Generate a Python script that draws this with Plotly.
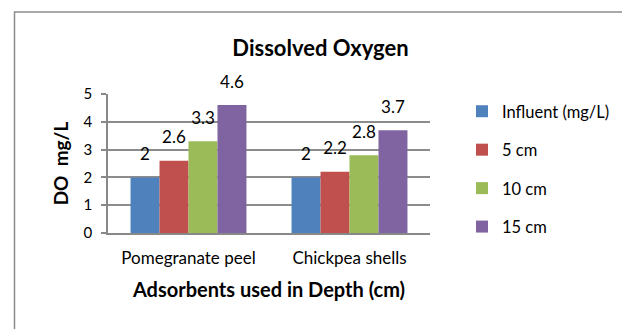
import plotly.graph_objects as go

categories = ["Pomegranate peel", "Chickpea shells"]
series_names = ["Influent (mg/L)", "5 cm", "10 cm", "15 cm"]
influent = [2, 2]
cm5 = [2.6, 2.2]
cm10 = [3.3, 2.8]
cm15 = [4.6, 3.7]
series_values = [influent, cm5, cm10, cm15]
colors = ["#4F81BD", "#C0504D", "#9BBB59", "#8064A2"]
y_ticks = [0, 1, 2, 3, 4, 5]

FONT = "Lato"
W, H = 622, 329
L, R, T, B = 108, 192, 94, 96
LABEL_BAND = 0.38  # transparent spacer (data units) lifting each value label off its bar

fig = go.Figure()
for name, vals, col in zip(series_names, series_values, colors):
    fig.add_trace(go.Bar(
        x=categories, y=vals, name=name, legendgroup=name, offsetgroup=name,
        marker=dict(color=col, line=dict(width=0)),
        hoverinfo="skip",
    ))
for name, vals in zip(series_names, series_values):
    fig.add_trace(go.Bar(
        x=categories, y=[LABEL_BAND] * len(vals), base=vals,
        offsetgroup=name, showlegend=False,
        marker=dict(color="rgba(0,0,0,0)", line=dict(width=0)),
        text=[f"{v:g}" for v in vals],
        textposition="outside", constraintext="none", textangle=0,
        outsidetextfont=dict(family=FONT, size=17, color="#000000"),
        cliponaxis=False, hoverinfo="skip",
    ))

pw = W - L - R
ph = H - T - B
def px_x(p):
    return (p - L) / pw
def px_y(p):
    return (H - B - p) / ph

fig.update_layout(
    width=W, height=H,
    margin=dict(l=L, r=R, t=T, b=B, autoexpand=False),
    paper_bgcolor="white", plot_bgcolor="white",
    barmode="group", bargap=0.28, bargroupgap=0,
    font=dict(family=FONT, color="#000000"),
    title=dict(text="<b>Dissolved Oxygen</b>", x=320.5 / W, xanchor="center",
               y=1 - 48 / H, yanchor="middle",
               font=dict(family=FONT, size=22, color="#000000")),
    xaxis=dict(showline=True, linecolor="#888888", linewidth=1.5,
               ticks="", showgrid=False,
               tickfont=dict(family=FONT, size=17, color="#000000"),
               ticklabelstandoff=9,
               title=dict(text="<b>Adsorbents used in Depth (cm)</b>",
                          font=dict(family=FONT, size=20, color="#000000"),
                          standoff=16)),
    yaxis=dict(range=[0, 5], tickvals=y_ticks, showline=True,
               linecolor="#888888", linewidth=1.5,
               ticks="outside", ticklen=5, tickcolor="#888888", tickwidth=1.5,
               showgrid=True, gridcolor="#8c8c8c", gridwidth=1.5,
               zeroline=False,
               tickfont=dict(family=FONT, size=15, color="#000000"),
               ticklabelstandoff=6,
               title=dict(text="<b>DO  mg/L</b>",
                          font=dict(family=FONT, size=19, color="#000000"),
                          standoff=10)),
    legend=dict(x=462 / W, xref="container", y=1 - 94 / H, yref="container",
                xanchor="left", yanchor="top",
                font=dict(family=FONT, size=16.5, color="#000000"),
                tracegroupgap=14, bgcolor="rgba(0,0,0,0)"),
    showlegend=True,
)

fig.add_shape(type="rect", xref="paper", yref="paper",
              x0=px_x(14.5), x1=px_x(640), y0=px_y(345), y1=px_y(12),
              line=dict(color="#8c8c8c", width=1.5), layer="below")

fig.write_html(
    "out.html",
    config={"displayModeBar": False},
    post_script="document.body.style.margin='0';document.body.style.overflow='hidden';",
)
